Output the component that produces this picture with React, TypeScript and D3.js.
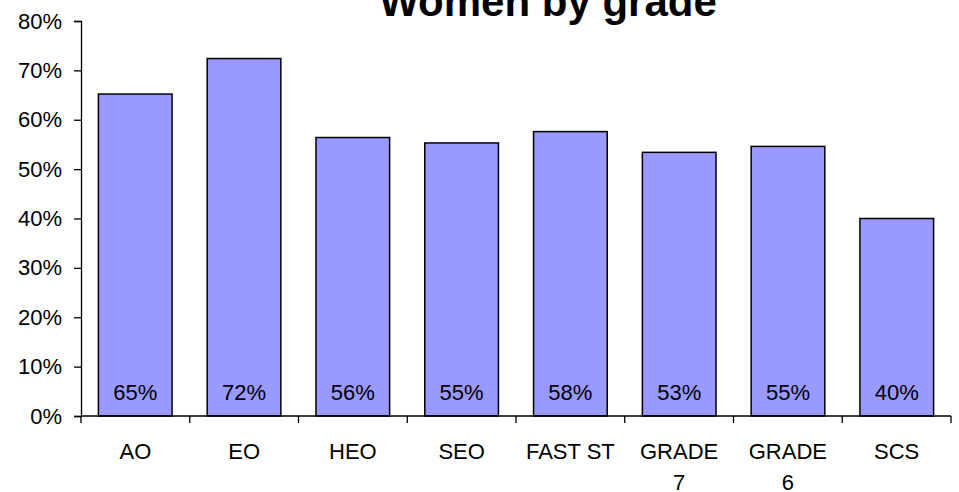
import * as d3 from "d3";
import { useEffect, useRef } from "react";

const categories = ["AO", "EO", "HEO", "SEO", "FAST ST", "GRADE 7", "GRADE 6", "SCS"];
const values = [65.2, 72.4, 56.4, 55.3, 57.6, 53.4, 54.6, 40.0];
const valueLabels = ["65%", "72%", "56%", "55%", "58%", "53%", "55%", "40%"];
const yTicks = [0, 10, 20, 30, 40, 50, 60, 70, 80];

export default function App() {
    const svgRef = useRef<SVGSVGElement | null>(null);
    const width = 959;
    const height = 492;

    useEffect(() => {
        const margin = { top: 21, right: 8, bottom: 76, left: 81 };
        const innerWidth = width - margin.left - margin.right;
        const innerHeight = height - margin.top - margin.bottom;
        const font = "'Liberation Sans', Arial, sans-serif";

        const svg = d3.select(svgRef.current);
        svg.selectAll("*").remove();

        // Title (partly cut off at the top, as in the original)
        svg.append("text")
            .attr("x", 548)
            .attr("y", 16)
            .attr("text-anchor", "middle")
            .attr("font-family", font)
            .attr("font-weight", "bold")
            .attr("font-size", "42px")
            .attr("fill", "#000")
            .text("Women by grade");

        const g = svg
            .append("g")
            .attr("transform", `translate(${margin.left},${margin.top})`);

        const x = d3
            .scaleBand()
            .domain(categories)
            .range([0, innerWidth])
            .paddingInner(0.323)
            .paddingOuter(0.16);

        const band = d3.scaleBand().domain(categories).range([0, innerWidth]);

        const y = d3.scaleLinear().domain([0, 80]).range([innerHeight, 0]);

        // Bars
        g.selectAll("rect.bar")
            .data(values)
            .enter()
            .append("rect")
            .attr("class", "bar")
            .attr("x", (_, i) => x(categories[i])!)
            .attr("width", x.bandwidth())
            .attr("y", (d) => y(d))
            .attr("height", (d) => innerHeight - y(d))
            .attr("fill", "#9999FF")
            .attr("stroke", "#000")
            .attr("stroke-width", 1.5);

        // Value labels inside bars
        g.selectAll("text.val")
            .data(valueLabels)
            .enter()
            .append("text")
            .attr("class", "val")
            .attr("x", (_, i) => x(categories[i])! + x.bandwidth() / 2)
            .attr("y", innerHeight - 16)
            .attr("text-anchor", "middle")
            .attr("font-family", font)
            .attr("font-size", "22px")
            .attr("fill", "#000")
            .text((d) => d);

        // Y axis
        const yAxis = g.append("g")
            .call(
                d3.axisLeft(y)
                    .tickValues(yTicks)
                    .tickSize(7)
                    .tickPadding(12)
                    .tickFormat((d) => `${d}%`)
            );
        yAxis.select(".domain").attr("stroke", "#000").attr("stroke-width", 1.3);
        yAxis.selectAll("line").attr("stroke", "#000").attr("stroke-width", 1.3);
        yAxis.selectAll("text")
            .attr("font-family", font)
            .attr("font-size", "22px")
            .attr("fill", "#000");

        // X axis with ticks between categories
        const xAxisG = g.append("g").attr("transform", `translate(0,${innerHeight})`);
        xAxisG.append("line")
            .attr("x1", 0)
            .attr("x2", innerWidth)
            .attr("stroke", "#000")
            .attr("stroke-width", 1.3);
        const boundaries = [...categories.map((c) => band(c)!), innerWidth];
        xAxisG.selectAll("line.tick")
            .data(boundaries)
            .enter()
            .append("line")
            .attr("class", "tick")
            .attr("x1", (d) => d)
            .attr("x2", (d) => d)
            .attr("y1", 0)
            .attr("y2", 7)
            .attr("stroke", "#000")
            .attr("stroke-width", 1.3);

        const labels = xAxisG.selectAll("text.cat")
            .data(categories)
            .enter()
            .append("text")
            .attr("class", "cat")
            .attr("y", 43)
            .attr("text-anchor", "middle")
            .attr("font-family", font)
            .attr("font-size", "22px")
            .attr("fill", "#000");

        labels.each(function (d) {
            const el = d3.select(this);
            const cx = band(d)! + band.bandwidth() / 2;
            const parts = d.startsWith("GRADE") ? d.split(" ") : [d];
            parts.forEach((p, i) => {
                el.append("tspan")
                    .attr("x", cx)
                    .attr("dy", i === 0 ? 0 : 31)
                    .text(p);
            });
        });
    }, []);

    return (
        <div style={{ position: "absolute", left: 0, top: 0 }}>
            <svg ref={svgRef} width={width} height={height} style={{ display: "block", background: "#fff" }}></svg>
        </div>
    );
}
